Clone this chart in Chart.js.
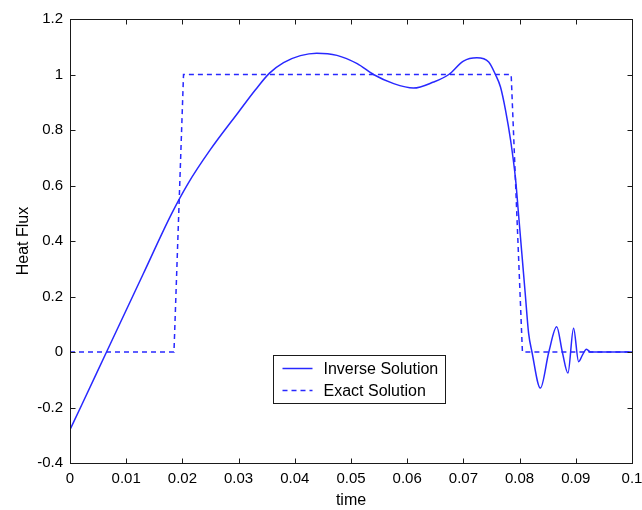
<!DOCTYPE html>
<html><head><meta charset="utf-8">
<script src="https://cdn.jsdelivr.net/npm/chart.js@4/dist/chart.umd.min.js"></script>
<style>html,body{margin:0;padding:0;background:#fff;} #wrap{width:642px;height:510px;}</style>
</head><body><div id="wrap"><canvas id="c" width="642" height="510"></canvas></div>
<script>
// ---- data ----
const inverseX = [0, 0.0021, 0.0065, 0.0130, 0.0180, 0.0210, 0.0250, 0.0300, 0.0330, 0.0355, 0.0380, 0.0410, 0.0439, 0.0475, 0.0511, 0.0540, 0.0576, 0.0611, 0.0647, 0.0674, 0.0700, 0.0724, 0.0745, 0.0757, 0.0766, 0.0775, 0.0784, 0.0793, 0.0798, 0.0804, 0.0810, 0.0816, 0.0822, 0.0837, 0.0852, 0.0866, 0.0876, 0.0886, 0.0896, 0.0905, 0.0912, 0.0919, 0.0926, 0.1];
const inverseY = [-0.28, -0.19, 0.0, 0.28, 0.495, 0.607, 0.730, 0.865, 0.945, 1.005, 1.043, 1.068, 1.077, 1.069, 1.039, 1.0, 0.967, 0.951, 0.973, 1.0, 1.048, 1.060, 1.045, 1.0, 0.955, 0.871, 0.763, 0.619, 0.499, 0.355, 0.211, 0.068, 0.0, -0.130, 0.0, 0.091, 0.0, -0.076, 0.086, -0.035, -0.01, 0.010, 0.0, 0.0];
const exactX = [0, 0.0185, 0.0202, 0.0785, 0.0805, 0.1];
const exactY = [0, 0, 1, 1, 0, 0];
const xTickLabels = ['0', '0.01', '0.02', '0.03', '0.04', '0.05', '0.06', '0.07', '0.08', '0.09', '0.1'];
const yTickLabels = ['-0.4', '-0.2', '0', '0.2', '0.4', '0.6', '0.8', '1', '1.2'];
const seriesNames = ['Inverse Solution', 'Exact Solution'];
const xTitle = 'time';
const yTitle = 'Heat Flux';

const FONT = "'Liberation Sans', Arial, sans-serif";
const LINE = 'rgb(40,40,255)';
const AXIS = '#1a1a1a';

function toPoints(xs, ys) { return xs.map((x, i) => ({x: x, y: ys[i]})); }

const framePlugin = {
  id: 'frame',
  afterDatasetsDraw(chart) {
    const ctx = chart.ctx, a = chart.chartArea;
    const L = Math.round(a.left) + 0.5, R = Math.round(a.right) + 0.5;
    const T = Math.round(a.top) + 0.5, B = Math.round(a.bottom) + 0.5;
    const len = 5;
    ctx.save();
    ctx.strokeStyle = AXIS; ctx.lineWidth = 1;
    ctx.strokeRect(L, T, R - L, B - T);
    ctx.beginPath();
    const xs = chart.scales.x, ys = chart.scales.y;
    xs.ticks.forEach(t => {
      const px = Math.round(xs.getPixelForValue(t.value)) + 0.5;
      ctx.moveTo(px, B); ctx.lineTo(px, B - len);
      ctx.moveTo(px, T); ctx.lineTo(px, T + len);
    });
    ys.ticks.forEach(t => {
      const py = Math.round(ys.getPixelForValue(t.value)) + 0.5;
      ctx.moveTo(L, py); ctx.lineTo(L + len, py);
      ctx.moveTo(R, py); ctx.lineTo(R - len, py);
    });
    ctx.stroke();
    ctx.restore();
  }
};

const legendPlugin = {
  id: 'boxLegend',
  afterDraw(chart) {
    const ctx = chart.ctx, a = chart.chartArea;
    ctx.save();
    ctx.font = '16px ' + FONT;
    const tw = Math.max(...chart.data.datasets.map(d => ctx.measureText(d.label).width));
    const x0 = Math.round(a.left + 203) + 0.5, y0 = Math.round(a.top + 336) + 0.5;
    const w = Math.round(50 + tw + 7), h = 48;
    ctx.fillStyle = '#fff';
    ctx.fillRect(x0, y0, w, h);
    ctx.strokeStyle = AXIS; ctx.lineWidth = 1;
    ctx.strokeRect(x0, y0, w, h);
    chart.data.datasets.forEach((d, i) => {
      const cy = y0 + 13 + i * 22;
      ctx.beginPath();
      ctx.strokeStyle = d.borderColor; ctx.lineWidth = d.borderWidth;
      ctx.setLineDash(d.borderDash || []);
      ctx.moveTo(x0 + 9, cy); ctx.lineTo(x0 + 39, cy);
      ctx.stroke();
      ctx.setLineDash([]);
      ctx.fillStyle = '#000';
      ctx.textBaseline = 'middle'; ctx.textAlign = 'left';
      ctx.fillText(d.label, x0 + 50, cy + 1);
    });
    ctx.restore();
  }
};

new Chart(document.getElementById('c'), {
  type: 'line',
  data: {
    datasets: [
      {label: seriesNames[0], data: toPoints(inverseX, inverseY), borderColor: LINE, borderWidth: 1.5,
       pointRadius: 0, cubicInterpolationMode: 'monotone', fill: false},
      {label: seriesNames[1], data: toPoints(exactX, exactY), borderColor: LINE, borderWidth: 1.5,
       borderDash: [5, 4], pointRadius: 0, tension: 0, fill: false}
    ]
  },
  options: {
    responsive: false, animation: false, devicePixelRatio: 1,
    layout: {padding: {left: 0, right: 10, top: 19, bottom: 0}},
    plugins: {legend: {display: false}, tooltip: {enabled: false}},
    scales: {
      x: {
        type: 'linear', min: 0, max: 0.1,
        grid: {display: false, drawTicks: false}, border: {display: false},
        ticks: {stepSize: 0.01, maxRotation: 0, autoSkip: false, padding: 7, color: '#000',
                font: {family: FONT, size: 15},
                callback: (v, i) => xTickLabels[i]},
        title: {display: true, text: xTitle, color: '#000', font: {family: FONT, size: 16}, padding: {top: 6, bottom: 0}},
        afterFit: s => { s.height = 47; s.paddingLeft = 0; s.paddingRight = 0; }
      },
      y: {
        type: 'linear', min: -0.4, max: 1.2,
        grid: {display: false, drawTicks: false}, border: {display: false},
        ticks: {stepSize: 0.2, padding: 7, color: '#000', font: {family: FONT, size: 15},
                callback: (v, i) => yTickLabels[i]},
        title: {display: true, text: yTitle, color: '#000', font: {family: FONT, size: 16}, padding: {top: 14, bottom: 0}},
        afterFit: s => { s.width = 70; s.paddingTop = 0; s.paddingBottom = 0; }
      }
    }
  },
  plugins: [framePlugin, legendPlugin]
});
</script>
</body></html>
